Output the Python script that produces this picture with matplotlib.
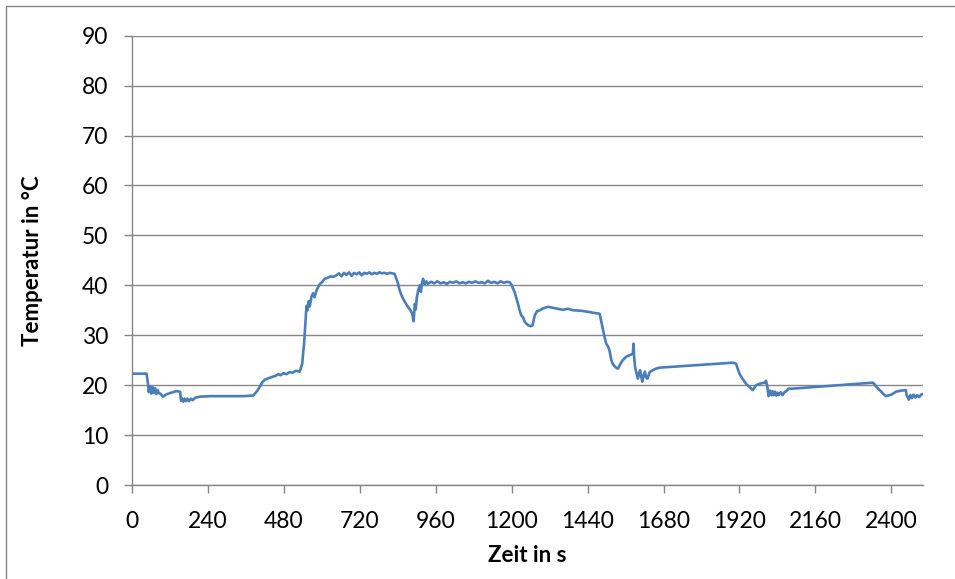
import matplotlib.pyplot as plt
from matplotlib.patches import Rectangle

time_s = [
    0, 46, 50, 53, 57, 61, 65, 69, 73, 77, 81, 85, 90, 98, 110, 125, 140, 152,
    155, 158, 162, 166, 170, 175, 180, 186, 192, 200, 215, 250, 300, 350, 383,
    395, 404, 412, 420, 432, 446, 455, 462, 470, 478, 488, 498, 509, 518, 530,
    534, 538, 541, 544, 546, 548, 550, 552, 555, 558, 562, 567, 572, 577, 583,
    588, 594, 600, 609, 618, 628, 636,
    646, 654, 662, 670, 678, 686, 694, 702, 710, 718, 726, 734, 742, 750, 758,
    766, 774, 782, 790, 798, 806, 814, 822, 830,
    840, 846, 852, 857, 864, 872, 880, 886, 888, 890, 892, 894, 897, 900, 904,
    909, 913, 916, 920, 925, 930, 935,
    945, 955, 965, 975, 985, 995, 1005, 1015, 1025, 1035, 1045, 1055, 1065,
    1075, 1085, 1095, 1105, 1115, 1125, 1135, 1145, 1155, 1165, 1175, 1185, 1194,
    1200, 1209, 1215, 1220, 1225, 1230, 1236, 1241, 1247, 1252, 1260, 1266,
    1270, 1273, 1280, 1289, 1300, 1315, 1330, 1345, 1362, 1378, 1394, 1420,
    1450, 1478,
    1483, 1488, 1494, 1499, 1504, 1509, 1512, 1515, 1520, 1525, 1530, 1536,
    1543, 1551, 1562, 1573, 1583, 1585, 1587, 1590, 1594, 1599, 1603, 1606,
    1609, 1613, 1617, 1621, 1625, 1629, 1636, 1646, 1656, 1667, 1899, 1909,
    1914, 1920, 1928, 1936, 1943, 1951, 1956, 1962, 1968, 1973, 1985, 2000,
    2004, 2008, 2012, 2016, 2020, 2024, 2028, 2032, 2036, 2040, 2044, 2050,
    2056, 2062, 2068, 2075, 2088, 2341, 2347, 2352, 2360, 2368, 2375, 2383,
    2400, 2415, 2430, 2446, 2448, 2451, 2455, 2460, 2465, 2470, 2476, 2482,
    2488, 2494, 2499,
]

temp_c = [
    22.3, 22.3, 20.5, 18.6, 19.8, 18.3, 19.6, 18.5, 19.4, 18.2, 19.0, 18.4, 18.3, 17.7, 18.2, 18.5, 18.8, 18.7,
    16.9, 17.4, 16.7, 17.3, 16.8, 17.3, 16.8, 17.3, 17.0, 17.5, 17.7, 17.8, 17.8, 17.8, 17.9,
    18.8, 19.7, 20.6, 21.1, 21.4, 21.7, 21.9, 22.2, 22.0, 22.4, 22.2, 22.6, 22.5, 22.9, 22.7,
    23.5, 24.3, 26.5, 28.3, 30.5, 32.3, 34.5, 35.9, 35.0, 36.8, 35.8, 37.7, 38.4, 37.6, 39.0,
    39.6, 40.3, 40.6, 41.3, 41.5, 41.8, 41.7,
    42.0, 42.4, 41.8, 42.5, 42.1, 42.6, 41.9, 42.5, 42.2, 42.6, 42.0, 42.5, 42.3, 42.6, 42.2,
    42.5, 42.3, 42.6, 42.4, 42.5, 42.3, 42.5, 42.4, 42.3,
    40.5, 39.0, 38.0, 37.3, 36.5, 35.7, 35.0, 34.3, 33.4, 32.8, 34.5, 36.3, 35.2, 37.5, 38.8,
    40.0, 38.7, 40.2, 41.3, 40.2, 40.8, 40.3,
    40.7, 40.4, 40.8, 40.4, 40.6, 40.3, 40.7, 40.5, 40.8, 40.4, 40.6, 40.4, 40.7,
    40.5, 40.8, 40.5, 40.6, 40.4, 40.9, 40.5, 40.7, 40.4, 40.8, 40.5, 40.7, 40.6,
    40.0, 38.7, 37.4, 36.3, 35.0, 34.0, 33.6, 32.7, 32.3, 32.0, 31.8, 32.0,
    33.2, 34.0, 34.8, 35.0, 35.4, 35.7, 35.5, 35.3, 35.1, 35.3, 35.0, 34.9,
    34.6, 34.3,
    32.8, 31.3, 29.5, 28.3, 27.8, 27.0, 26.0, 25.0, 24.2, 23.8, 23.5, 23.3,
    24.2, 25.0, 25.7, 26.0, 26.3, 28.3, 25.7, 23.7, 22.5, 21.3, 22.5, 23.0,
    21.8, 20.7, 22.0, 22.7, 21.5, 21.3, 22.6, 23.0, 23.3, 23.5, 24.5, 24.3,
    23.4, 22.3, 21.4, 20.7, 20.1, 19.7, 19.4, 19.0, 19.6, 20.0, 20.3, 20.5,
    20.9, 19.7, 17.8, 18.9, 18.0, 18.8, 18.0, 18.7, 17.9, 18.5, 18.0, 18.6,
    18.0, 18.6, 18.8, 19.3, 19.3, 20.5, 20.2, 19.7, 19.2, 18.7, 18.2, 17.8,
    18.1, 18.7, 18.9, 19.0, 18.0, 17.7, 17.1, 18.0, 17.4, 18.1, 17.5, 18.0,
    17.6, 18.1, 18.2,
]

x_ticks = [0, 240, 480, 720, 960, 1200, 1440, 1680, 1920, 2160, 2400]
y_ticks = [0, 10, 20, 30, 40, 50, 60, 70, 80, 90]

assert len(time_s) == len(temp_c)

plt.rcParams['font.family'] = ['Lato', 'DejaVu Sans']

grey = '#868686'

fig = plt.figure(figsize=(9.55, 5.79), dpi=100)
ax = fig.add_axes([132 / 955, 1 - 485 / 579, (923 - 132) / 955, (485 - 35.7) / 579])

ax.plot(time_s, temp_c, color='#4A7EBB', linewidth=1.9)

ax.set_xlim(0, 2500)
ax.set_ylim(0, 90)
ax.set_xticks(x_ticks)
ax.set_yticks(y_ticks)

ax.grid(axis='y', color=grey, linewidth=1.0)
ax.set_axisbelow(True)
for side in ['top', 'right']:
    ax.spines[side].set_visible(False)
for side in ['left', 'bottom']:
    ax.spines[side].set_color(grey)
    ax.spines[side].set_linewidth(1.0)

ax.tick_params(axis='x', direction='out', length=6, color=grey, width=1.0,
               labelsize=16.5, pad=13)
ax.tick_params(axis='y', direction='out', length=6, color=grey, width=1.0,
               labelsize=16.5, pad=11)

ax.set_xlabel('Zeit in s', fontsize=16, fontweight='bold')
ax.set_ylabel('Temperatur in °C', fontsize=16, fontweight='bold')
ax.xaxis.set_label_coords(0.5, (485 - 545) / 449.3)
ax.yaxis.set_label_coords((43 - 132) / 791, 0.5)

# Rahmen des Diagrammbereichs
fig.patches.append(Rectangle((6 / 955, -0.1), 1.2, 1 - 6 / 579 + 0.1,
                             transform=fig.transFigure, fill=False,
                             edgecolor=grey, linewidth=1.0))

fig.savefig('out.png', dpi=100)
